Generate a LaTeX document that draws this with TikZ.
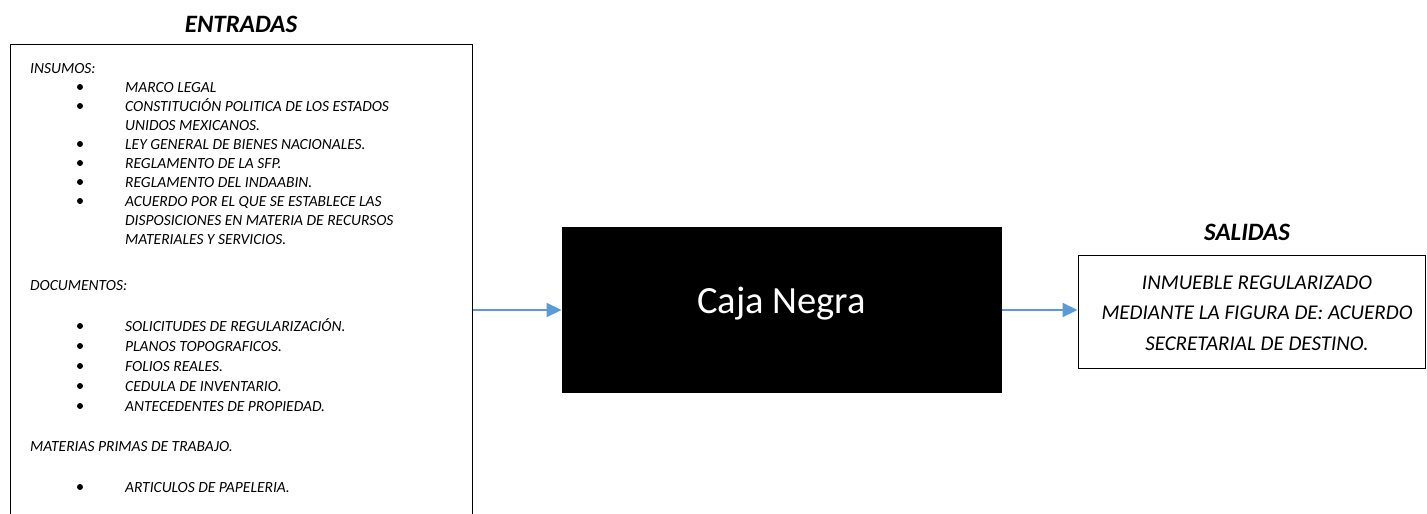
\documentclass[tikz,border=0pt]{standalone}
\usepackage{fontspec}
\setmainfont{Carlito}
\usetikzlibrary{arrows.meta}
\definecolor{azulflecha}{RGB}{91,155,213}

\begin{document}
\begin{tikzpicture}[x=1pt,y=-1pt,
	caja/.style={draw=black,line width=1pt,inner sep=0pt},
	lista/.style={font=\fontsize{15.5}{19}\selectfont\itshape,anchor=base west,inner sep=0pt},
	titulo/.style={font=\fontsize{25}{30}\selectfont\bfseries\itshape,anchor=base,inner sep=0pt},
	flecha/.style={draw=azulflecha,fill=azulflecha,line width=2.2pt,-{Triangle[length=15pt,width=14pt]}}]
	\useasboundingbox (0,0) rectangle (1427,514);
	\clip (0,0) rectangle (1427,514);
	% entradas
	\node[titulo] (tentradas) at (241,32) {ENTRADAS};
	\node[caja,minimum width=462.5pt,minimum height=500pt,anchor=north west] (entradas) at (9.5,44) {};
	\node[lista] (insumos) at (30,73) {INSUMOS:};
	\node[lista] (documentos) at (30,290) {DOCUMENTOS:};
	\node[lista] (materias) at (30,451) {MATERIAS PRIMAS DE TRABAJO.};
	\foreach \y/\b/\t [count=\i] in {92/1/MARCO LEGAL, 111/1/CONSTITUCIÓN POLITICA DE LOS ESTADOS, 130/0/UNIDOS MEXICANOS., 149/1/LEY GENERAL DE BIENES NACIONALES., 168/1/REGLAMENTO DE LA SFP., 187/1/REGLAMENTO DEL INDAABIN., 206/1/ACUERDO POR EL QUE SE ESTABLECE LAS, 225/0/DISPOSICIONES EN MATERIA DE RECURSOS, 244/0/MATERIALES Y SERVICIOS., 331/1/SOLICITUDES DE REGULARIZACIÓN., 351/1/PLANOS TOPOGRAFICOS., 371/1/FOLIOS REALES., 391/1/CEDULA DE INVENTARIO., 411/1/ANTECEDENTES DE PROPIEDAD., 492/1/ARTICULOS DE PAPELERIA.}{
		\node[lista] (item\i) at (125,\y) {\t};
		\ifnum\b=1 \fill (80,\y-5) circle (3pt); \fi
	}
	% caja negra
	\node[fill=black,minimum width=440pt,minimum height=165.4pt,inner sep=0pt] (caja) at (781.7,310) {};
	\node[font=\fontsize{38.5}{46}\selectfont,text=white,anchor=base,inner sep=0pt] (cajatxt) at ([yshift=-3pt]caja.center) {Caja Negra};
	% salidas
	\node[titulo] (tsalidas) at (1247,240) {SALIDAS};
	\node[caja,minimum width=347pt,minimum height=113pt] (salidas) at (1251.5,311.5) {};
	\node[font=\fontsize{21}{30.5}\selectfont\itshape,align=center,inner sep=0pt] (salidastxt) at (1257,313) {INMUEBLE REGULARIZADO\\MEDIANTE LA FIGURA DE: ACUERDO\\SECRETARIAL DE DESTINO.};
	% flechas
	\draw[flecha] (entradas.east |- caja.west) -- (caja.west);
	\draw[flecha] (caja.east) -- (salidas.west |- caja.east);
\end{tikzpicture}
\end{document}
